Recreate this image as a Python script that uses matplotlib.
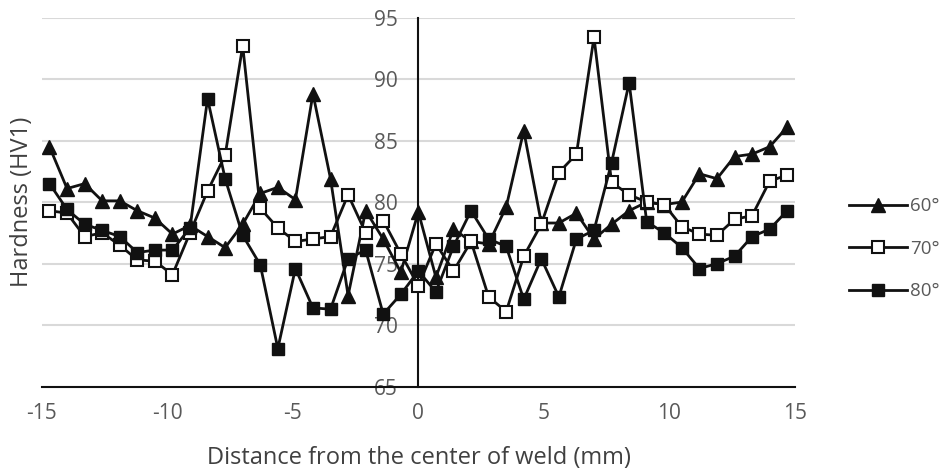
import matplotlib.pyplot as plt
import numpy as np

# Distance from weld centre (mm)
distance = [-14.7, -14.0, -13.3, -12.6, -11.9, -11.2, -10.5, -9.8, -9.1, -8.4, -7.7,
            -7.0, -6.3, -5.6, -4.9, -4.2, -3.5, -2.8, -2.1, -1.4, -0.7, 0.0,
            0.7, 1.4, 2.1, 2.8, 3.5, 4.2, 4.9, 5.6, 6.3, 7.0, 7.7, 8.4, 9.1,
            9.8, 10.5, 11.2, 11.9, 12.6, 13.3, 14.0, 14.7]

# Hardness values (HV1) for each angle
hv_60 = [84.5, 81.1, 81.5, 80.1, 80.1, 79.3, 78.7, 77.4, 78.1, 77.2, 76.3,
         78.2, 80.7, 81.2, 80.2, 88.8, 81.9, 72.4, 79.3, 77.0, 74.3, 79.2,
         73.9, 77.8, 76.8, 76.6, 79.6, 85.8, 78.3, 78.3, 79.1, 77.0, 78.2,
         79.3, 80.0, 79.8, 80.0, 82.3, 81.9, 83.7, 83.9, 84.5, 86.1]
hv_70 = [79.3, 79.1, 77.2, 77.5, 76.5, 75.3, 75.2, 74.1, 77.5, 80.9, 83.8,
         92.7, 79.5, 77.9, 76.8, 77.0, 77.2, 80.6, 77.5, 78.5, 75.8, 73.2,
         76.6, 74.4, 76.8, 72.3, 71.1, 75.6, 78.2, 82.4, 83.9, 93.4, 81.6,
         80.6, 80.0, 79.8, 78.0, 77.4, 77.3, 78.6, 78.9, 81.7, 82.2]
hv_80 = [81.5, 79.4, 78.2, 77.7, 77.2, 75.9, 76.1, 76.1, 77.9, 88.4, 81.9,
         77.3, 74.9, 68.1, 74.6, 71.4, 71.3, 75.4, 76.1, 70.9, 72.5, 74.4,
         72.7, 76.4, 79.3, 77.0, 76.4, 72.1, 75.4, 72.3, 77.0, 77.7, 83.2,
         89.7, 78.4, 77.5, 76.3, 74.6, 75.0, 75.6, 77.2, 77.8, 79.3]

labels = ['60°', '70°', '80°']
x_ticks = [-15, -10, -5, 0, 5, 10, 15]
y_ticks = [65, 70, 75, 80, 85, 90, 95]

plt.rcParams['font.family'] = ['Open Sans', 'DejaVu Sans']
plt.rcParams['axes.unicode_minus'] = False  # plain hyphen like the original
text_gray = '#595959'

fig = plt.figure(figsize=(9.45, 4.73), dpi=100)
ax = fig.add_axes([0.0444, 0.1825, 0.7966, 0.7805])

# Gridlines (horizontal only)
for y in y_ticks[1:]:
    ax.axhline(y, color='#d9d9d9', linewidth=1.5, zorder=0)

# Series
ax.plot(distance, hv_60, color='#111111', linewidth=2, marker='^', markersize=10.5,
        markerfacecolor='#111111', markeredgecolor='#111111', label=labels[0], zorder=3)
ax.plot(distance, hv_70, color='#111111', linewidth=2, marker='s', markersize=9,
        markerfacecolor='white', markeredgecolor='#111111', markeredgewidth=1.5,
        label=labels[1], zorder=4)
ax.plot(distance, hv_80, color='#111111', linewidth=2, marker='s', markersize=9,
        markerfacecolor='#111111', markeredgecolor='#111111', label=labels[2], zorder=5)

ax.set_xlim(-15, 15)
ax.set_ylim(65, 95)
ax.set_xticks(x_ticks)
ax.set_yticks(y_ticks)

# Axes: y axis crosses at x = 0
ax.spines['left'].set_position(('data', 0))
ax.spines['left'].set_color('#111111')
ax.spines['left'].set_linewidth(1.5)
ax.spines['bottom'].set_color('#111111')
ax.spines['bottom'].set_linewidth(1.5)
ax.spines['top'].set_visible(False)
ax.spines['right'].set_visible(False)
ax.tick_params(axis='y', length=0, pad=15, labelsize=15, labelcolor=text_gray)
ax.tick_params(axis='x', length=0, pad=12, labelsize=15, labelcolor=text_gray)

# Axis titles
fig.text(0.023, 0.573, 'Hardness (HV1)', rotation=90, ha='center', va='center',
         fontsize=17, color='#404040')
fig.text(0.443, 0.032, 'Distance from the center of weld (mm)', ha='center',
         va='center', fontsize=17, color='#404040')

leg = fig.legend(loc='center left', bbox_to_anchor=(0.898, 0.474), frameon=False,
                 fontsize=13.5, handlelength=3.1, handletextpad=0.2, labelspacing=1.3,
                 borderpad=0, borderaxespad=0)
for t in leg.get_texts():
    t.set_color(text_gray)

plt.savefig('out.png', dpi=100)
